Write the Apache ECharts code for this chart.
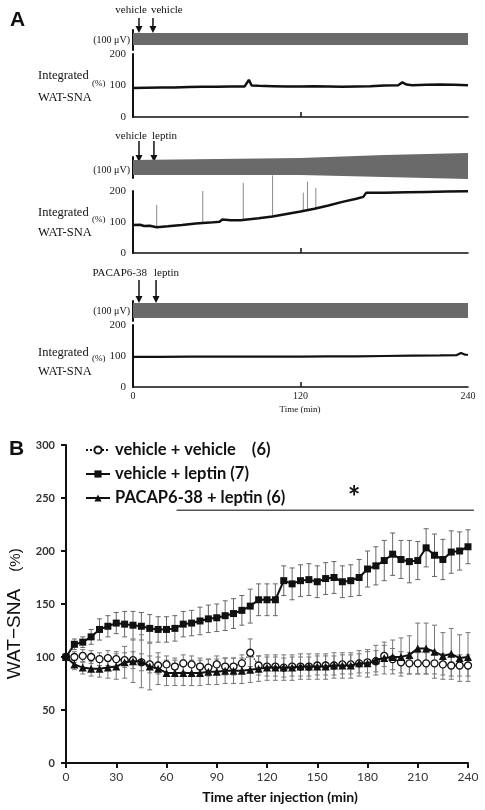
<!DOCTYPE html>
<html><head><meta charset="utf-8">
<script src="https://cdn.jsdelivr.net/npm/echarts@6/dist/echarts.min.js"></script>
<style>html,body{margin:0;padding:0;background:#fff}#c{width:485px;height:810px}</style>
</head><body><div id="c"></div>
<script>
// ---------- Panel B data ----------
const times = [0,5,10,15,20,25,30,35,40,45,50,55,60,65,70,75,80,85,90,95,100,105,110,115,120,125,130,135,140,145,150,155,160,165,170,175,180,185,190,195,200,205,210,215,220,225,230,235,240];
const vehMean = [100,100,101,100,98,99,98,97,97,95,93,92,93,91,94,93,91,90,93,91,91,94,104,92,91,91,90,91,91,91,92,92,92,93,93,94,95,96,101,98,95,94,94,94,94,93,92,92,92];
const vehSE   = [0,5,6,6,6,7,7,7,8,8,8,8,8,8,8,8,8,8,8,8,8,8,13,9,9,9,9,9,9,9,9,9,9,9,9,9,10,10,10,10,10,10,10,10,10,10,10,10,10];
const lepMean = [100,112,114,119,126,129,132,131,130,129,127,126,126,127,131,132,134,136,137,139,141,144,148,154,154,154,172,169,172,173,171,174,175,171,172,175,183,186,191,197,192,190,191,203,196,192,199,200,204];
const lepSE   = [0,5,5,7,10,10,10,12,13,13,13,12,12,12,12,12,13,13,13,14,14,14,16,15,15,15,14,15,15,15,15,15,15,15,15,17,17,18,19,20,18,20,18,18,20,19,20,18,16];
const pacMean = [100,93,90,89,89,90,91,95,96,96,91,89,85,85,85,85,85,86,86,87,87,87,88,89,90,90,90,90,91,91,91,91,92,92,92,94,94,97,99,100,100,102,108,108,105,101,103,99,100];
const pacSE   = [0,5,6,7,8,10,12,15,20,25,22,15,12,12,12,12,12,12,12,12,12,12,12,12,12,12,12,12,12,12,12,12,12,12,12,12,13,14,15,16,18,18,24,24,25,22,24,22,23];
const seriesNames = ['vehicle + vehicle    (6)', 'vehicle + leptin (7)', 'PACAP6-38 + leptin (6)'];
const sigStart = 66, sigEnd = 243.5, sigLevel = 238.5, starTime = 172, starLevel = 255;

// ---------- Panel A data ----------
const rawA1Time = [0,120,240], rawA1Up = [35,35,35], rawA1Lo = [-25,-25,-25];
const rawA2Time = [0,60,120,180,240], rawA2Up = [36,40,45,60,69], rawA2Lo = [-36,-36,-36,-45,-55];
const rawA3Time = [0,120,240], rawA3Up = [40,40,40], rawA3Lo = [-35,-35,-35];
const intA1Time = [0,10,20,30,40,50,60,70,80,83,85,90,100,110,120,130,140,150,160,170,180,190,193,196,200,210,220,230,240];
const intA1Val  = [92,93,94,94,95,96,96,97,97,118,100,99,98,97,97,98,97,96,97,98,100,101,110,103,101,102,103,102,101];
const intA2Time = [0,5,8,12,17,25,35,45,55,62,64,70,77,90,100,110,120,130,140,150,160,165,167,180,196,210,225,240];
const intA2Val  = [90,91,87,88,83,86,90,95,98,101,108,106,106,112,118,126,134,143,153,165,175,181,194,194,196,197,198,199];
const intA3Time = [0,20,40,60,80,100,120,140,160,180,200,220,232,235,238,240];
const intA3Val  = [97,97,98,98,98,98,98,99,99,100,101,102,103,110,104,104];
const spikeA2Time = [17,50,79,100,122,125,131];
const spikeA2Base = [85,95,105,118,138,142,148];
const spikeA2Top  = [155,200,226,250,195,230,210];
const injA1 = [4.3,14.3], injA1Lab = ['vehicle','vehicle'];
const injA2 = [4.3,15.0], injA2Lab = ['vehicle','leptin'];
const injA3 = [4.3,16.5], injA3Lab = ['PACAP6-38','leptin'];

const chart = echarts.init(document.getElementById('c'), null, {renderer:'canvas'});
const serif = 'Liberation Serif';
const lato = 'Lato';

const gridsA = [
  {left:133,right:17,top:30,height:20},
  {left:133,right:17,top:54,height:63},
  {left:133,right:17,top:157,height:21},
  {left:133,right:17,top:191,height:62},
  {left:133,right:17,top:301,height:20},
  {left:133,right:17,top:325,height:62}
];
const grids = gridsA.concat([{left:66,right:17,top:445,height:318}]);

const xAxes = [], yAxes = [];
for (let i=0;i<6;i++){
  const raw = i%2===0;
  xAxes.push({type:'value',gridIndex:i,min:0,max:240,interval:120,show:!raw,
    axisLine:{show:true,onZero:false,lineStyle:{color:'#111',width:1.5}},
    axisTick:{show:true,inside:true,length:5,lineStyle:{color:'#111',width:1.5},
      customValues:[120]},
    axisLabel:{show:i===5,fontFamily:serif,fontSize:10,color:'#222',margin:4},
    splitLine:{show:false}});
  yAxes.push(raw ? {type:'value',gridIndex:i,min:-50,max:50,
      axisLine:{show:true,onZero:false,lineStyle:{color:'#111',width:2}},
      axisTick:{show:false},axisLabel:{show:false},splitLine:{show:false}}
    : {type:'value',gridIndex:i,min:0,max:200,interval:100,
      axisLine:{show:true,onZero:false,lineStyle:{color:'#111',width:2}},
      axisTick:{show:false},axisLabel:{fontFamily:serif,fontSize:11,color:'#222',margin:7},
      splitLine:{show:false}});
}
xAxes.push({type:'value',gridIndex:6,min:0,max:240,interval:30,
  axisLine:{onZero:false,lineStyle:{color:'#111',width:2}},
  axisTick:{length:5,lineStyle:{color:'#111',width:2}},
  axisLabel:{fontFamily:lato,fontSize:12,color:'#333',margin:8},splitLine:{show:false}});
yAxes.push({type:'value',gridIndex:6,min:0,max:300,interval:50,
  axisLine:{onZero:false,lineStyle:{color:'#111',width:2}},
  axisTick:{length:5,lineStyle:{color:'#111',width:2}},
  axisLabel:{fontFamily:lato,fontSize:11,fontWeight:'bold',color:'#333',margin:11},splitLine:{show:false}});

function rawBand(idx,t,up,lo){
  return {type:'custom',xAxisIndex:idx,yAxisIndex:idx,silent:true,clip:false,z:2,
    data:[[t[0],0]],
    renderItem:function(p,api){
      const top = t.map((x,j)=>api.coord([x,up[j]]));
      const bot = t.map((x,j)=>api.coord([x,lo[j]])).reverse();
      return {type:'polygon',shape:{points:top.concat(bot)},style:{fill:'#6a6a6a'}};
    }};
}
function intLine(idx,t,v,w){
  return {type:'line',xAxisIndex:idx,yAxisIndex:idx,symbol:'none',silent:true,
    data:t.map((x,j)=>[x,v[j]]),lineStyle:{color:'#111',width:w}};
}
function errBars(name,mean,se,color){
  return {type:'custom',name:name,xAxisIndex:6,yAxisIndex:6,silent:true,z:1,
    data:times.map((t,i)=>[t,mean[i],se[i]]),
    renderItem:function(params,api){
      const x=api.value(0),m=api.value(1),s=api.value(2);
      if(!s) return null;
      const a=api.coord([x,m+s]), b=api.coord([x,m-s]), w=2.5;
      const st={stroke:color,lineWidth:1};
      return {type:'group',children:[
        {type:'line',shape:{x1:a[0],y1:a[1],x2:b[0],y2:b[1]},style:st},
        {type:'line',shape:{x1:a[0]-w,y1:a[1],x2:a[0]+w,y2:a[1]},style:st},
        {type:'line',shape:{x1:b[0]-w,y1:b[1],x2:b[0]+w,y2:b[1]},style:st}]};
    }};
}

const series = [
  rawBand(0,rawA1Time,rawA1Up,rawA1Lo),
  rawBand(2,rawA2Time,rawA2Up,rawA2Lo),
  rawBand(4,rawA3Time,rawA3Up,rawA3Lo),
  intLine(1,intA1Time,intA1Val,2.5), intLine(3,intA2Time,intA2Val,2.5), intLine(5,intA3Time,intA3Val,2.2),
  {type:'custom',xAxisIndex:3,yAxisIndex:3,silent:true,z:1,clip:false,
   data:spikeA2Time.map((t,i)=>[t,spikeA2Base[i],spikeA2Top[i]]),
   renderItem:function(p,api){const a=api.coord([api.value(0),api.value(1)]),b=api.coord([api.value(0),api.value(2)]);
     return {type:'line',shape:{x1:a[0],y1:a[1],x2:b[0],y2:b[1]},style:{stroke:'#8a8a8a',lineWidth:1}};}},
  errBars('eb1',vehMean,vehSE,'#777'),
  errBars('eb2',lepMean,lepSE,'#666'),
  errBars('eb3',pacMean,pacSE,'#777'),
  {type:'line',name:seriesNames[0],xAxisIndex:6,yAxisIndex:6,z:3,
   data:times.map((t,i)=>[t,vehMean[i]]),symbol:'circle',symbolSize:7,showAllSymbol:true,
   lineStyle:{type:'dotted',width:1.3,color:'#111'},itemStyle:{color:'#fff',borderColor:'#111',borderWidth:1.3}},
  {type:'line',name:seriesNames[1],xAxisIndex:6,yAxisIndex:6,z:4,
   data:times.map((t,i)=>[t,lepMean[i]]),symbol:'rect',symbolSize:7,showAllSymbol:true,
   lineStyle:{width:2,color:'#111'},itemStyle:{color:'#111'}},
  {type:'line',name:seriesNames[2],xAxisIndex:6,yAxisIndex:6,z:4,
   data:times.map((t,i)=>[t,pacMean[i]]),symbol:'triangle',symbolSize:8,showAllSymbol:true,
   lineStyle:{width:2,color:'#111'},itemStyle:{color:'#111'}}
];

chart.setOption({
  animation:false,backgroundColor:'#fff',
  grid:grids,xAxis:xAxes,yAxis:yAxes,
  legend:{data:seriesNames,orient:'vertical',left:80,top:435,itemWidth:24,itemHeight:9,itemGap:4,
    textStyle:{fontFamily:lato,fontSize:16.5,fontWeight:'bold',color:'#111',lineHeight:20}},
  series:series
});

// ---------- annotation graphics placed via the axes ----------
const g = [];
function txt(x,y,s,font,opts){ g.push(Object.assign({type:'text',x:x,y:y,silent:true,
  style:Object.assign({text:s,font:font,fill:'#111',textAlign:'left',textVerticalAlign:'middle'},opts||{})})); }
txt(10,20,'A','bold 21px "Liberation Sans"');
txt(9,449,'B','bold 21px "Liberation Sans"');

function arrows(gridIdx,inj,labs,yTop,yBot,labY){
  inj.forEach((t,k)=>{
    const x = chart.convertToPixel({gridIndex:gridIdx},[t,0])[0];
    g.push({type:'line',silent:true,shape:{x1:x,y1:yTop,x2:x,y2:yBot-5},style:{stroke:'#111',lineWidth:1.5}});
    g.push({type:'polygon',silent:true,shape:{points:[[x-3.5,yBot-7],[x+3.5,yBot-7],[x,yBot]]},style:{fill:'#111'}});
    const align = k===0 ? 'right' : 'left';
    txt(k===0 ? x+8 : x-2, labY, labs[k], '11px "Liberation Serif"', {textAlign:align});
  });
}
arrows(0,injA1,injA1Lab,18,33,10);
arrows(2,injA2,injA2Lab,141,162,136);
arrows(4,injA3,injA3Lab,280,303,273);

[[40,76,98,84],[170,213,233,220],[311,353,372,359]].forEach(r=>{
  txt(130,r[0],'(100 \u03bcV)','10px "Liberation Serif"',{textAlign:'right'});
  txt(38,r[1],'Integrated','12.5px "Liberation Serif"');
  txt(38,r[2],'WAT-SNA','12.5px "Liberation Serif"');
  txt(92,r[3],'(%)','9px "Liberation Serif"');
});
txt(300,410,'Time (min)','9px "Liberation Serif"',{textAlign:'center'});

// panel B texts
g.push({type:'text',x:15,y:634,rotation:Math.PI/2,silent:true,
  style:{text:'WAT\u2212SNA',font:'19px "Liberation Sans"',fill:'#111',textAlign:'center',textVerticalAlign:'middle'}});
g.push({type:'text',x:16,y:560,rotation:Math.PI/2,silent:true,
  style:{text:'(%)',font:'15px "Liberation Sans"',fill:'#111',textAlign:'center',textVerticalAlign:'middle'}});
txt(280,797,'Time after injection (min)','bold 14px Lato',{textAlign:'center'});

const p1 = chart.convertToPixel({gridIndex:6},[sigStart,sigLevel]);
const p2 = chart.convertToPixel({gridIndex:6},[sigEnd,sigLevel]);
g.push({type:'line',silent:true,shape:{x1:p1[0],y1:p1[1],x2:p2[0],y2:p2[1]},style:{stroke:'#555',lineWidth:1.5}});
const ps = chart.convertToPixel({gridIndex:6},[starTime,starLevel]);
txt(ps[0],ps[1]+6,'*','bold 30px Lato',{textAlign:'center'});

chart.setOption({graphic:g});
</script></body></html>
